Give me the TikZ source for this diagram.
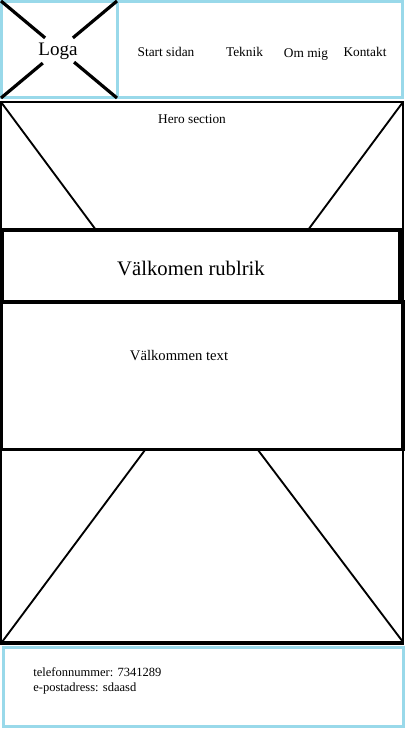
\documentclass[tikz,border=0pt]{standalone}
\usepackage{fontspec}
\setmainfont{Liberation Serif}
\usetikzlibrary{calc}
\definecolor{ljusbla}{RGB}{153,217,234}
\begin{document}
\begin{tikzpicture}[x=0.75pt,y=-0.75pt,
		blaram/.style={draw=ljusbla,line width=2.25pt},
		ram/.style={draw=black,line width=1.5pt},
		tjockram/.style={draw=black,line width=2.6pt},
		kryss/.style={black,line width=2.4pt},
		diag/.style={black,line width=1.4pt},
		meny/.style={anchor=base,font=\fontsize{10}{12}\selectfont}]
		\useasboundingbox (0,0) rectangle (408,729);
		\draw[blaram](1.5,1.5) rectangle (402,97.5);
		\draw[blaram](1.5,1.5) rectangle (117,97.5);
		\coordinate (lv) at (1,1);
		\coordinate (lh) at (117,1);
		\coordinate (rh) at (117,98);
		\coordinate (rv) at (1,98);
		\draw[kryss](lv) -- ($(lv)!0.38!(rh)$);
		\draw[kryss]($(lv)!0.63!(rh)$) -- (rh);
		\draw[kryss](lh) -- ($(lh)!0.38!(rv)$);
		\draw[kryss]($(lh)!0.64!(rv)$) -- (rv);
		\node[anchor=base,font=\fontsize{14.3}{17}\selectfont] (loga) at (58,55) {Loga};
		\node[meny] (start) at (166,56) {Start sidan};
		\node[meny] (teknik) at (244.5,56.5) {Teknik};
		\node[meny] (ommig) at (306,57) {Om mig};
		\node[meny] (kontakt) at (365,56.5) {Kontakt};
		\draw[ram](1,101.5) rectangle (403,643);
		\draw[diag](1,102) -- (96,230);
		\draw[diag](403,102) -- (308,230);
		\node[meny,font=\fontsize{10}{12}\selectfont] (hero) at (192,123) {Hero section};
		\draw[tjockram](2,230) rectangle (400,302);
		\node[anchor=base,font=\fontsize{15.5}{19}\selectfont] (rubrik) at (191,275) {Välkomen rublrik};
		\draw[tjockram](1,302) rectangle (403,449.5);
		\node[anchor=base,font=\fontsize{11}{14}\selectfont] (text) at (179,360.5) {Välkommen text};
		\draw[diag](145,450) -- (2,642);
		\draw[diag](258,450) -- (403,642);
		\draw[tjockram](0,643) -- (404,643);
		\draw[blaram](3.5,647) rectangle (403,726);
		\node[anchor=base west,font=\fontsize{9.4}{12}\selectfont,inner sep=0pt] (telefon) at (33,676) {telefonnummer: 7341289};
		\node[anchor=base west,font=\fontsize{9.4}{12}\selectfont,inner sep=0pt] (epost) at (33,691) {e-postadress: sdaasd};
	\end{tikzpicture}
\end{document}
